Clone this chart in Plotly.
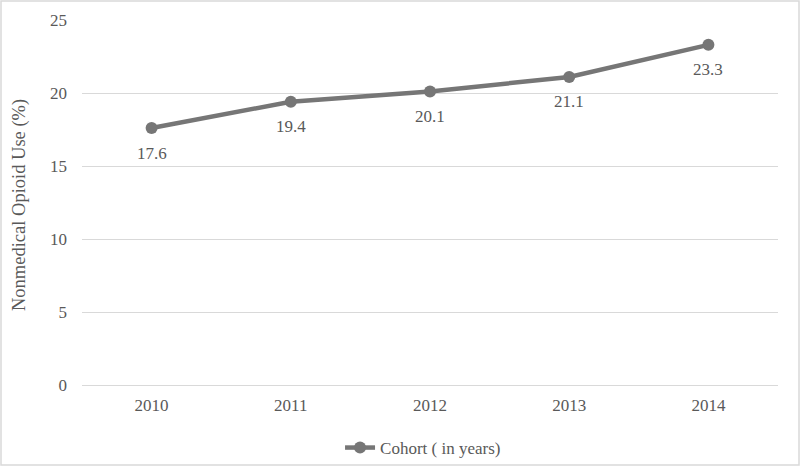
import plotly.graph_objects as go

years = ["2010", "2011", "2012", "2013", "2014"]
values = [17.6, 19.4, 20.1, 21.1, 23.3]
labels = ["17.6", "19.4", "20.1", "21.1", "23.3"]

W, H = 800, 467
L, R, T, B = 82, 22, 20, 82
pw, ph = W - L - R, H - T - B
GRAY = "#595959"
FONT = "Liberation Serif"

fig = go.Figure()
fig.add_trace(go.Scatter(
    x=years, y=values, mode="lines+markers",
    name="Cohort ( in years)",
    line=dict(color="#767676", width=4.5),
    marker=dict(color="#767676", size=12),
))

for i, (yv, t) in enumerate(zip(values, labels)):
    fig.add_annotation(x=i, y=yv, text=t, showarrow=False, yshift=-25,
                       font=dict(family=FONT, size=17, color=GRAY))

fig.add_annotation(xref="paper", yref="paper", x=(19 - L) / pw, y=(T + ph - 205) / ph,
                   text="Nonmedical Opioid Use (%)", textangle=-90, showarrow=False,
                   xanchor="center", yanchor="middle",
                   font=dict(family=FONT, size=18.5, color=GRAY))

fig.update_layout(
    width=W, height=H,
    margin=dict(l=L, r=R, t=T, b=B, autoexpand=False),
    paper_bgcolor="white", plot_bgcolor="white",
    font=dict(family=FONT, size=17, color=GRAY),
    xaxis=dict(type="category", range=[-0.5, 4.5], showgrid=False, automargin=False,
               showline=False, ticks="", ticklabelstandoff=8,
               tickfont=dict(size=17, color=GRAY)),
    yaxis=dict(range=[0, 25], dtick=5, showgrid=True, gridcolor="#d9d9d9",
               gridwidth=1.2, zeroline=True, zerolinecolor="#d9d9d9", zerolinewidth=1.2,
               ticks="", ticklabelstandoff=14, automargin=False,
               tickfont=dict(size=17, color=GRAY)),
    showlegend=True,
    legend=dict(orientation="h", x=0.49, xanchor="center", y=(T + ph - 448) / ph, yanchor="middle",
                bgcolor="rgba(0,0,0,0)", font=dict(size=17, color=GRAY)),
)

fig.add_shape(type="rect", xref="paper", yref="paper",
              x0=(1 - L) / pw, x1=(W - 1 - L) / pw,
              y0=(T + ph - (H - 2)) / ph, y1=(T + ph - 1) / ph,
              line=dict(color="#d9d9d9", width=1.5), fillcolor="rgba(0,0,0,0)", layer="below")

fig.write_html("out.html", config={"displayModeBar": False},
               post_script="document.body.style.margin='0';document.body.style.overflow='hidden';")
